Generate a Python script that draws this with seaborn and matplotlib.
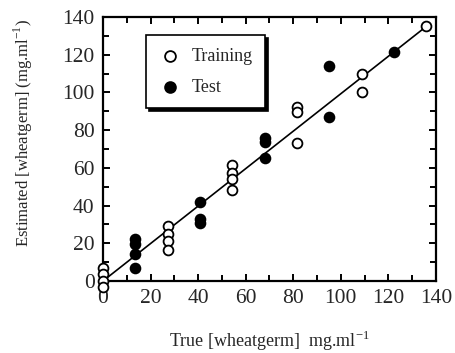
import matplotlib
matplotlib.use("Agg")
import matplotlib.pyplot as plt
import numpy as np
import pandas as pd
import seaborn as sns

# Calibration data: true vs estimated wheatgerm concentration (mg/ml)
train_true = [0, 0, 0, 0,
              27.2, 27.2, 27.2, 27.2,
              54.4, 54.4, 54.4, 54.4,
              81.6, 81.6, 81.6,
              108.8, 108.8,
              136]
train_est = [7, 3.5, 0, -3,
             29, 25, 21, 16.5,
             61.5, 57, 54, 48,
             92, 89.5, 73,
             109.5, 100,
             135]

test_true = [13.6, 13.6, 13.6, 13.6,
             40.8, 40.8, 40.8,
             68, 68, 68,
             95.2, 95.2,
             122.4]
test_est = [22, 19.5, 14.5, 7,
            42, 33, 30.5,
            76, 73.5, 65,
            114, 87,
            121.5]

ticks = [0, 20, 40, 60, 80, 100, 120, 140]

train = pd.DataFrame({"true": train_true, "est": train_est})
test = pd.DataFrame({"true": test_true, "est": test_est})

sns.set_style("ticks")
plt.rcParams["font.family"] = ["Liberation Serif", "DejaVu Serif"]
plt.rcParams["mathtext.fontset"] = "custom"
plt.rcParams["mathtext.rm"] = "Liberation Serif"

fig = plt.figure(figsize=(4.56, 3.53), dpi=100)
ax = fig.add_axes([0.226, 0.204, 0.73, 0.748])

# Least-squares line through the training set
sns.regplot(data=train, x="true", y="est", ax=ax, scatter=False, ci=None,
            truncate=True, line_kws=dict(color="black", lw=1.2, zorder=2))

sns.scatterplot(data=train, x="true", y="est", ax=ax, marker="o", s=50,
                facecolor="white", edgecolor="black", linewidth=1.3,
                label="Training", zorder=5, clip_on=False)
sns.scatterplot(data=test, x="true", y="est", ax=ax, marker="o", s=50,
                facecolor="black", edgecolor="black", linewidth=1.3,
                label="Test", zorder=5, clip_on=False)

ax.set_xlim(0, 140)
ax.set_ylim(0, 140)
ax.set_xticks(ticks)
ax.set_yticks(ticks)
ax.set_xticks(np.arange(10, 140, 20), minor=True)
ax.set_yticks(np.arange(10, 140, 20), minor=True)
ax.tick_params(which="both", direction="in", top=True, right=True,
               width=1.4, color="black", labelsize=15.5, pad=6)
ax.tick_params(which="major", length=5)
ax.tick_params(which="minor", length=4)
for sp in ax.spines.values():
    sp.set_linewidth(1.6)
    sp.set_color("black")

ax.set_xlabel(r"True [wheatgerm]  mg.ml$^{\mathregular{-1}}$", fontsize=13, labelpad=15)
ax.set_ylabel(r"Estimated [wheatgerm] (mg.ml$^{\mathregular{-1}}$)", fontsize=12)
ax.yaxis.set_label_coords(-0.205, 0.56)

leg = ax.legend(loc="upper left", bbox_to_anchor=(0.13, 0.93), frameon=True,
                fancybox=False, shadow={"facecolor": "black", "edgecolor": "black", "alpha": 1},
                fontsize=13, handletextpad=0.6, borderpad=0.7, labelspacing=0.75,
                handlelength=1.2, borderaxespad=0, markerscale=1.1)
leg.get_frame().set_edgecolor("black")
leg.get_frame().set_linewidth(1.2)
leg.get_frame().set_alpha(1)

fig.savefig("out.png", dpi=100)
